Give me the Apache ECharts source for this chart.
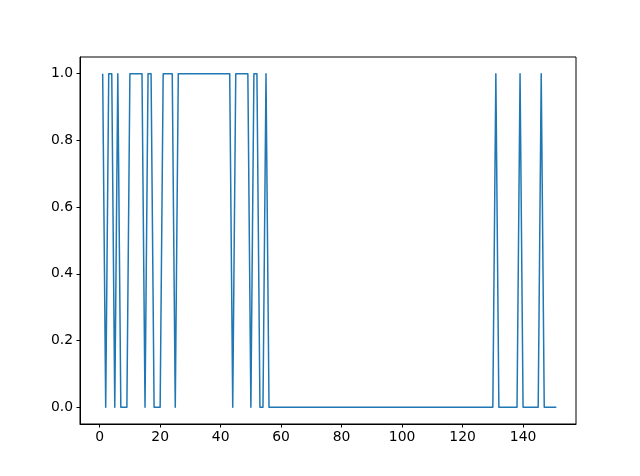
<!DOCTYPE html>
<html>
<head>
<meta charset="utf-8">
<script src="https://cdn.jsdelivr.net/npm/echarts@6/dist/echarts.min.js"></script>
<style>
html,body{margin:0;padding:0;background:#fff;}
#chart{width:640px;height:476px;}
</style>
</head>
<body>
<div id="chart"></div>
<script>
// y value for x = 1, 2, 3, ... (one entry per step)
const yValues = [
  1,0,1,1,0,1,0,0,0,1,
  1,1,1,1,0,1,1,0,0,0,
  1,1,1,1,0,1,1,1,1,1,
  1,1,1,1,1,1,1,1,1,1,
  1,1,1,0,1,1,1,1,1,0,
  1,1,0,0,1,0,0,0,0,0,
  0,0,0,0,0,0,0,0,0,0,
  0,0,0,0,0,0,0,0,0,0,
  0,0,0,0,0,0,0,0,0,0,
  0,0,0,0,0,0,0,0,0,0,
  0,0,0,0,0,0,0,0,0,0,
  0,0,0,0,0,0,0,0,0,0,
  0,0,0,0,0,0,0,0,0,0,
  1,0,0,0,0,0,0,0,1,0,
  0,0,0,0,0,1,0,0,0,0,
  0
];
const xStart = 1;
const xTicks = [0, 20, 40, 60, 80, 100, 120, 140];
const yTicks = [0, 0.2, 0.4, 0.6, 0.8, 1.0];

const seriesData = yValues.map((y, i) => [xStart + i, y]);

const chart = echarts.init(document.getElementById('chart'), null, {renderer: 'canvas'});
const font = 'DejaVu Sans';
chart.setOption({
  animation: false,
  backgroundColor: '#ffffff',
  grid: {
    left: 80, right: 64, top: 57, bottom: 52,
    show: true, borderColor: '#000', borderWidth: 1, backgroundColor: 'transparent'
  },
  xAxis: {
    type: 'value',
    min: -6.5, max: 157.5,
    axisLine: {show: true, onZero: false, lineStyle: {color: '#000', width: 1}},
    axisTick: {show: true, inside: false, length: 3.5, lineStyle: {color: '#000', width: 1}, customValues: xTicks},
    axisLabel: {show: true, color: '#000', fontFamily: font, fontSize: 13.9, margin: 6, customValues: xTicks,
      formatter: v => String(v)},
    splitLine: {show: false}
  },
  yAxis: {
    type: 'value',
    min: -0.05, max: 1.05,
    axisLine: {show: true, onZero: false, lineStyle: {color: '#000', width: 1}},
    axisTick: {show: true, inside: false, length: 3.5, lineStyle: {color: '#000', width: 1}, customValues: yTicks},
    axisLabel: {show: true, color: '#000', fontFamily: font, fontSize: 13.9, margin: 7, customValues: yTicks,
      formatter: v => v.toFixed(1)},
    splitLine: {show: false}
  },
  series: [{
    type: 'line',
    data: seriesData,
    showSymbol: false,
    symbol: 'none',
    lineStyle: {color: '#1f77b4', width: 1.5, join: 'round', cap: 'butt'},
    itemStyle: {color: '#1f77b4'}
  }]
});
</script>
</body>
</html>
